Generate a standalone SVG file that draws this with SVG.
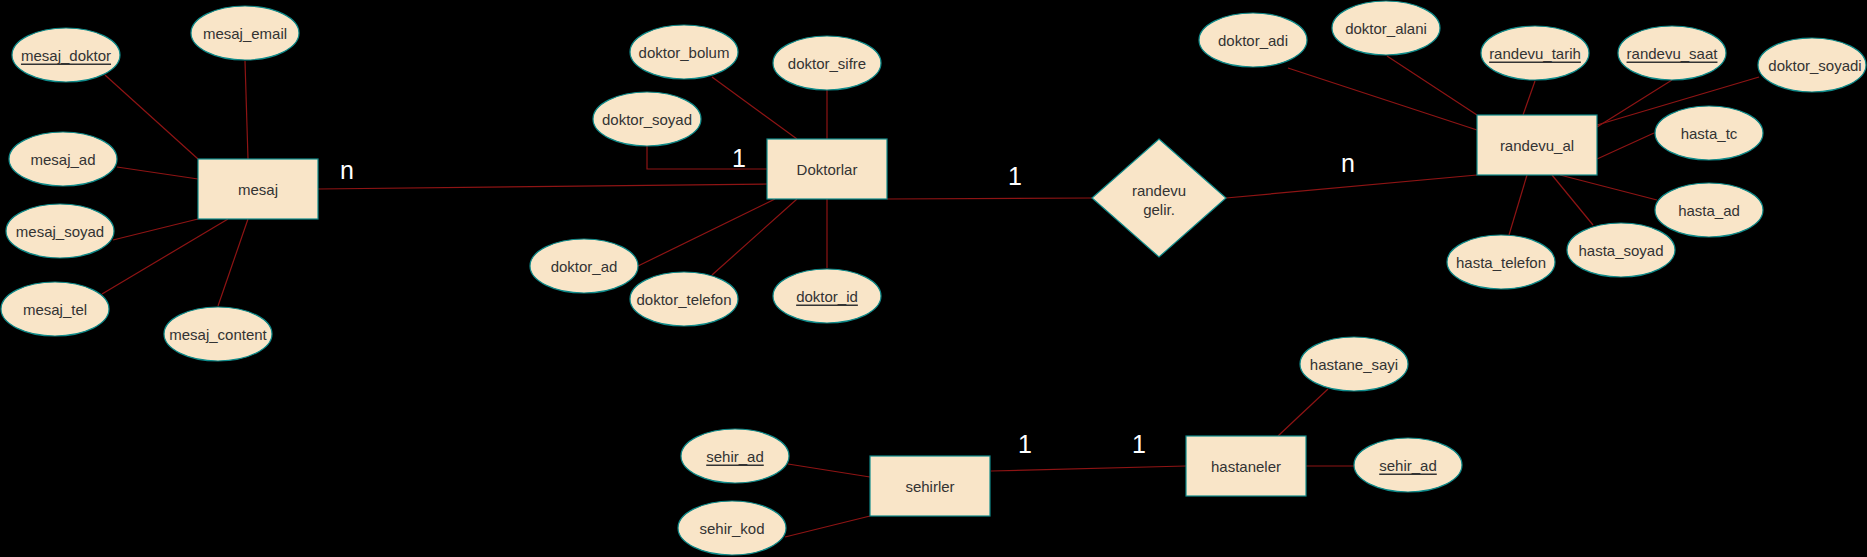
<svg xmlns="http://www.w3.org/2000/svg" width="1867" height="557" viewBox="0 0 1867 557">
<style>
.bg{fill:#000}
.ent{fill:#F9E5C8;stroke:#0E8A8A;stroke-width:1.2}
.att{fill:#F9E5C8;stroke:#0E8A8A;stroke-width:1.2}
.t{font-family:"Liberation Sans",Arial,sans-serif;font-size:15px;fill:#333333;text-anchor:middle;dominant-baseline:central}
.u{text-decoration:underline}
.card{font-family:"Liberation Sans",Arial,sans-serif;font-size:25px;fill:#ffffff}
.ln{stroke:#8E1414;stroke-width:1.2;fill:none}
</style>
<rect class="bg" x="0" y="0" width="1867" height="557"/>
<g id="connectors">
<line class="ln" x1="105" y1="75" x2="198" y2="159"/>
<line class="ln" x1="245" y1="61" x2="248" y2="159"/>
<line class="ln" x1="117" y1="167" x2="198" y2="179"/>
<line class="ln" x1="113" y1="240" x2="198" y2="219"/>
<line class="ln" x1="102" y1="294" x2="228" y2="219"/>
<line class="ln" x1="218" y1="306" x2="248" y2="219"/>
<line class="ln" x1="318" y1="189" x2="767" y2="184"/>
<line class="ln" x1="712" y1="77" x2="797" y2="139"/>
<line class="ln" x1="827" y1="90" x2="827" y2="139"/>
<path class="ln" d="M647,146 V169 H767"/>
<line class="ln" x1="638" y1="266" x2="775" y2="199"/>
<line class="ln" x1="712" y1="275" x2="797" y2="199"/>
<line class="ln" x1="827" y1="199" x2="827" y2="268"/>
<line class="ln" x1="887" y1="199" x2="1092" y2="198"/>
<line class="ln" x1="1226" y1="198" x2="1477" y2="175"/>
<line class="ln" x1="1288" y1="68" x2="1477" y2="130"/>
<line class="ln" x1="1387" y1="56" x2="1477" y2="115"/>
<line class="ln" x1="1535" y1="81" x2="1523" y2="115"/>
<line class="ln" x1="1672" y1="80" x2="1597" y2="127"/>
<line class="ln" x1="1759" y1="77" x2="1597" y2="125"/>
<line class="ln" x1="1654" y1="133" x2="1597" y2="159"/>
<line class="ln" x1="1657" y1="200" x2="1560" y2="175"/>
<line class="ln" x1="1593" y1="225" x2="1552" y2="175"/>
<line class="ln" x1="1509" y1="235" x2="1527" y2="175"/>
<line class="ln" x1="788" y1="464" x2="870" y2="477"/>
<line class="ln" x1="785" y1="537" x2="870" y2="516"/>
<line class="ln" x1="991" y1="471" x2="1186" y2="466"/>
<line class="ln" x1="1328" y1="389" x2="1278" y2="436"/>
<line class="ln" x1="1306" y1="466" x2="1354" y2="466"/>
</g>
<g id="cardinalities">
<text class="card" x="340" y="179">n</text>
<text class="card" x="732" y="167">1</text>
<text class="card" x="1008" y="185">1</text>
<text class="card" x="1341" y="172">n</text>
<text class="card" x="1018" y="453">1</text>
<text class="card" x="1132" y="453">1</text>
</g>
<g id="mesaj"><rect class="ent" x="198" y="159" width="120" height="60"/><text class="t" x="258" y="189">mesaj</text></g>
<g id="mesaj_doktor"><ellipse class="att" cx="66" cy="55" rx="54" ry="27"/><text class="t u" x="66" y="55">mesaj_doktor</text></g>
<g id="mesaj_email"><ellipse class="att" cx="245" cy="33" rx="54" ry="27"/><text class="t" x="245" y="33">mesaj_email</text></g>
<g id="mesaj_ad"><ellipse class="att" cx="63" cy="159" rx="54" ry="27"/><text class="t" x="63" y="159">mesaj_ad</text></g>
<g id="mesaj_soyad"><ellipse class="att" cx="60" cy="231" rx="54" ry="27"/><text class="t" x="60" y="231">mesaj_soyad</text></g>
<g id="mesaj_tel"><ellipse class="att" cx="55" cy="309" rx="54" ry="27"/><text class="t" x="55" y="309">mesaj_tel</text></g>
<g id="mesaj_content"><ellipse class="att" cx="218" cy="334" rx="54" ry="27"/><text class="t" x="218" y="334">mesaj_content</text></g>
<g id="doktorlar"><rect class="ent" x="767" y="139" width="120" height="60"/><text class="t" x="827" y="169">Doktorlar</text></g>
<g id="doktor_bolum"><ellipse class="att" cx="684" cy="52" rx="54" ry="27"/><text class="t" x="684" y="52">doktor_bolum</text></g>
<g id="doktor_sifre"><ellipse class="att" cx="827" cy="63" rx="54" ry="27"/><text class="t" x="827" y="63">doktor_sifre</text></g>
<g id="doktor_soyad"><ellipse class="att" cx="647" cy="119" rx="54" ry="27"/><text class="t" x="647" y="119">doktor_soyad</text></g>
<g id="doktor_ad"><ellipse class="att" cx="584" cy="266" rx="54" ry="27"/><text class="t" x="584" y="266">doktor_ad</text></g>
<g id="doktor_telefon"><ellipse class="att" cx="684" cy="299" rx="54" ry="27"/><text class="t" x="684" y="299">doktor_telefon</text></g>
<g id="doktor_id"><ellipse class="att" cx="827" cy="296" rx="54" ry="27"/><text class="t u" x="827" y="296">doktor_id</text></g>
<g id="randevu_gelir"><polygon class="ent" points="1159,139 1226,198 1159,257 1092,198"/><text class="t" x="1159" y="190">randevu</text><text class="t" x="1159" y="209">gelir.</text></g>
<g id="randevu_al"><rect class="ent" x="1477" y="115" width="120" height="60"/><text class="t" x="1537" y="145">randevu_al</text></g>
<g id="doktor_adi"><ellipse class="att" cx="1253" cy="40" rx="54" ry="27"/><text class="t" x="1253" y="40">doktor_adi</text></g>
<g id="doktor_alani"><ellipse class="att" cx="1386" cy="28" rx="54" ry="27"/><text class="t" x="1386" y="28">doktor_alani</text></g>
<g id="randevu_tarih"><ellipse class="att" cx="1535" cy="53" rx="54" ry="27"/><text class="t u" x="1535" y="53">randevu_tarih</text></g>
<g id="randevu_saat"><ellipse class="att" cx="1672" cy="53" rx="54" ry="27"/><text class="t u" x="1672" y="53">randevu_saat</text></g>
<g id="doktor_soyadi"><ellipse class="att" cx="1812" cy="65" rx="54" ry="27"/><text class="t" x="1815" y="65">doktor_soyadi</text></g>
<g id="hasta_tc"><ellipse class="att" cx="1709" cy="133" rx="54" ry="27"/><text class="t" x="1709" y="133">hasta_tc</text></g>
<g id="hasta_ad"><ellipse class="att" cx="1709" cy="210" rx="54" ry="27"/><text class="t" x="1709" y="210">hasta_ad</text></g>
<g id="hasta_soyad"><ellipse class="att" cx="1621" cy="250" rx="54" ry="27"/><text class="t" x="1621" y="250">hasta_soyad</text></g>
<g id="hasta_telefon"><ellipse class="att" cx="1501" cy="262" rx="54" ry="27"/><text class="t" x="1501" y="262">hasta_telefon</text></g>
<g id="sehirler"><rect class="ent" x="870" y="456" width="120" height="60"/><text class="t" x="930" y="486">sehirler</text></g>
<g id="sehir_ad_1"><ellipse class="att" cx="735" cy="456" rx="54" ry="27"/><text class="t u" x="735" y="456">sehir_ad</text></g>
<g id="sehir_kod"><ellipse class="att" cx="732" cy="528" rx="54" ry="27"/><text class="t" x="732" y="528">sehir_kod</text></g>
<g id="hastaneler"><rect class="ent" x="1186" y="436" width="120" height="60"/><text class="t" x="1246" y="466">hastaneler</text></g>
<g id="hastane_sayi"><ellipse class="att" cx="1354" cy="364" rx="54" ry="27"/><text class="t" x="1354" y="364">hastane_sayi</text></g>
<g id="sehir_ad_2"><ellipse class="att" cx="1408" cy="465" rx="54" ry="27"/><text class="t u" x="1408" y="465">sehir_ad</text></g>
</svg>
